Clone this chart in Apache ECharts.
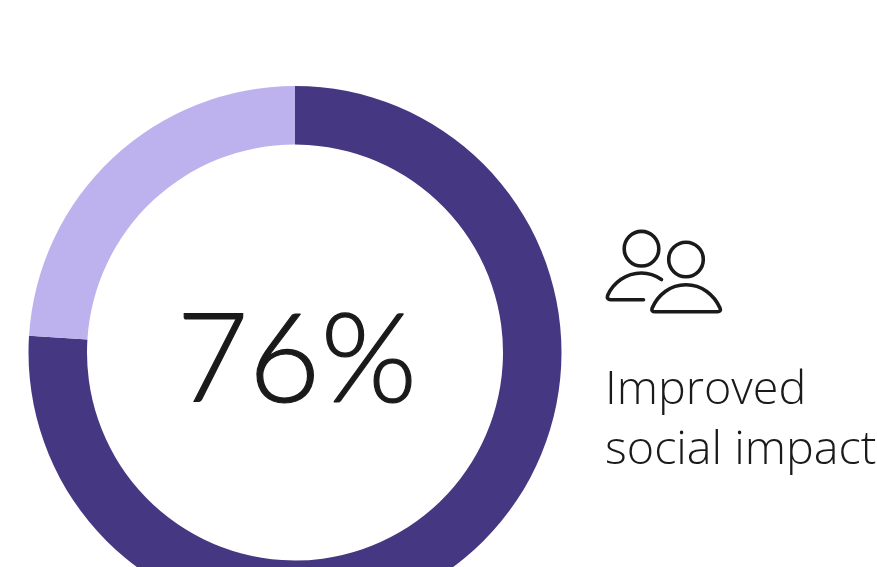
<!DOCTYPE html>
<html>
<head>
<meta charset="utf-8">
<style>html,body{margin:0;padding:0;background:#fff}#chart{width:877px;height:567px}</style>
<script src="https://cdn.jsdelivr.net/npm/echarts@6/dist/echarts.min.js"></script>
</head>
<body>
<div id="chart"></div>
<script>
// Share of respondents reporting the outcome, and the remainder
const categories = ['Improved social impact', 'Other'];
const values = [76, 24];
const caption = ['Improved', 'social impact'];

const INK = '#1a1a1a';

// Shoulder outlines of the people icon
echarts.graphic.registerShape('shouldersBack', echarts.graphic.extendPath(
  'M661.5 279.5 C655 275 648 273 641.5 273 C626 273 613 283 607.6 295.5 C606.8 298 608 299.8 610.5 299.8 L643.5 299.8'
));
echarts.graphic.registerShape('shouldersFront', echarts.graphic.extendPath(
  'M686 284.8 C670 284.8 658 295 652.2 308 C651.2 310.5 652.5 311.8 655 311.8 L717.5 311.8 C720 311.8 721 310.5 720 308 C714 295 702 284.8 686 284.8 Z'
));

const chart = echarts.init(document.getElementById('chart'), null, { renderer: 'canvas' });

const iconStroke = { stroke: INK, lineWidth: 3.6, fill: 'none', lineCap: 'round', lineJoin: 'round' };
const icon = [
  { type: 'circle', shape: { cx: 641.5, cy: 248.7, r: 17.3 }, style: iconStroke },
  { type: 'circle', shape: { cx: 686, cy: 259.5, r: 17.3 }, style: iconStroke },
  { type: 'shouldersBack', style: iconStroke },
  { type: 'shouldersFront', style: iconStroke }
];

chart.setOption({
  animation: false,
  backgroundColor: '#ffffff',
  graphic: [
    {
      type: 'text', left: 176, top: 299,
      style: { text: values[0] + '%', font: '300 124px Lato', fill: INK, stroke: INK, lineWidth: 1.2 }
    },
    {
      type: 'text', left: 605, top: 361,
      style: { text: caption.join('\n'), font: '300 46.7px "Open Sans"', lineHeight: 60, fill: INK }
    },
    ...icon
  ],
  series: [{
    type: 'pie',
    center: [295, 352.5],
    radius: [208, 266.5],
    startAngle: 90,
    clockwise: true,
    silent: true,
    label: { show: false },
    labelLine: { show: false },
    data: categories.map((name, i) => ({
      name,
      value: values[i],
      itemStyle: { color: i === 0 ? '#453781' : '#bdb2ee' }
    }))
  }]
});
</script>
</body>
</html>
